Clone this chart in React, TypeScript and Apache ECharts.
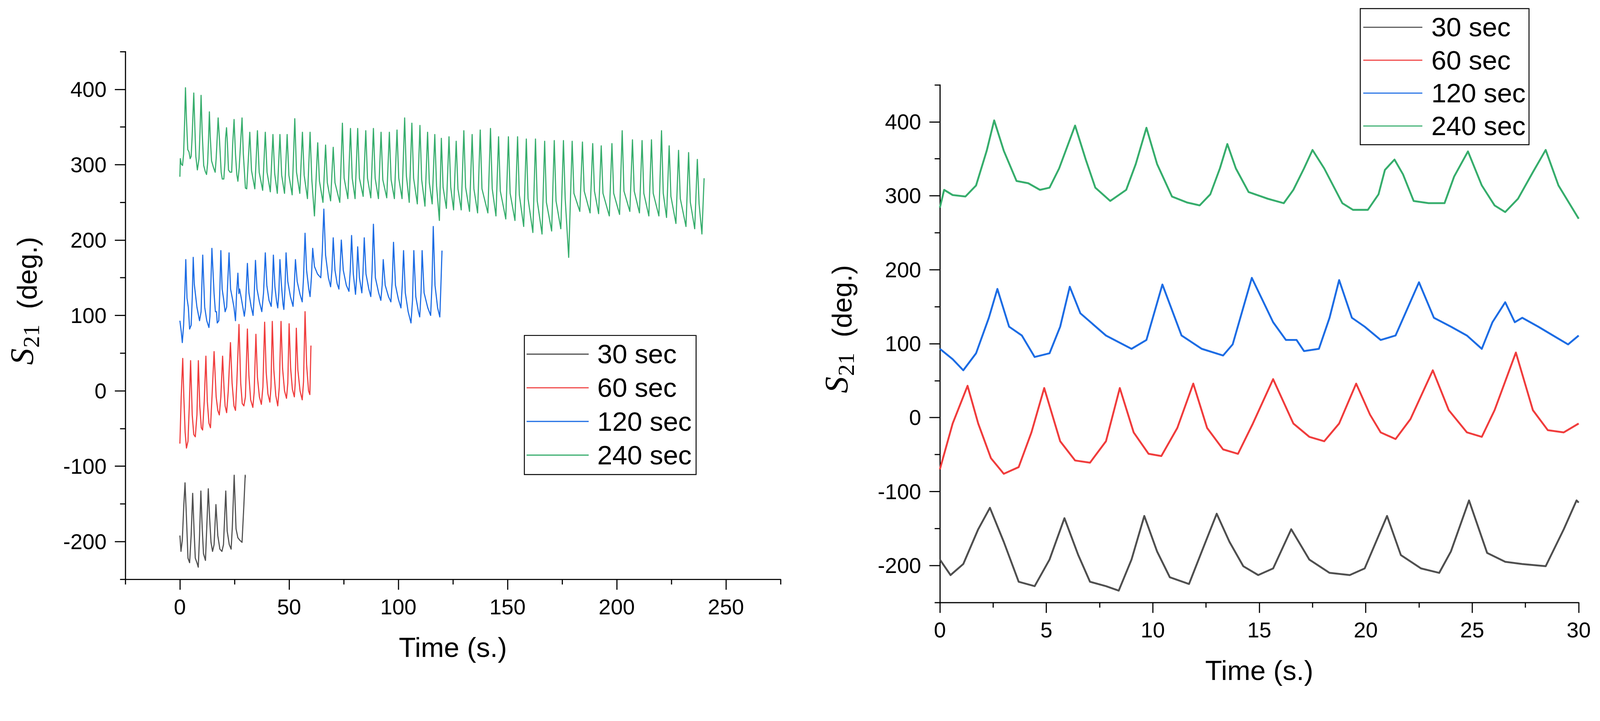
import React, { useEffect, useRef } from "react";
import * as echarts from "echarts";

// ---------- data (time s, S21 deg) ----------
const seriesNames = ["30 sec", "60 sec", "120 sec", "240 sec"];
const seriesColors = ["#4f4f4f", "#f03c3c", "#1c6ce4", "#36ad6c"];

const s30: number[][] = [
  [0, -192], [0.5, -213], [1.1, -198], [1.8, -151], [2.35, -122], [3.0, -168], [3.7, -222], [4.45, -228],
  [5.15, -192], [5.85, -136], [6.5, -186], [7.05, -222], [7.8, -228], [8.4, -234], [9.0, -192], [9.6, -133],
  [10.2, -181], [10.8, -216], [11.7, -225], [12.3, -181], [13.0, -130], [13.6, -168], [14.25, -201], [14.95, -213],
  [15.65, -204], [16.5, -151], [17.35, -192], [18.3, -210], [19.25, -213], [19.95, -204], [21.0, -133], [21.65, -186],
  [22.6, -204], [23.45, -210], [24.0, -181], [24.85, -112], [25.7, -183], [26.55, -195], [27.35, -198], [28.45, -201],
  [29.3, -151], [29.9, -112], [30, -115],
];

const s60: number[][] = [
  [0, -70], [0.6, -8], [1.3, 43], [1.8, -8], [2.4, -55], [3.0, -76], [3.7, -67], [4.3, -20], [4.9, 40],
  [5.65, -32], [6.35, -58], [7.05, -61], [7.8, -32], [8.45, 40], [9.1, -20], [9.8, -49], [10.4, -52], [11.15, -14],
  [11.9, 46], [12.55, -14], [13.3, -43], [14.0, -49], [14.7, -8], [15.65, 52], [16.6, -8], [17.35, -26], [18.05, -32],
  [18.75, -8], [19.55, 46], [20.2, 4], [20.7, -20], [21.4, -29], [22.1, -2], [23.15, 64], [23.9, 10], [24.75, -20],
  [25.45, -26], [26.05, 10], [27.05, 88], [27.85, 10], [28.55, -17], [29.3, -20], [30, -8],
  [30.9, 82], [31.6, 20], [32.4, -12], [33.4, -22], [34.0, -2], [34.8, 75], [35.5, 18], [36.4, -8], [37.3, -18],
  [38.0, 5], [38.8, 91], [39.5, 25], [40.3, -4], [41.2, -15], [41.7, 5], [42.3, 92], [43.0, 28], [43.9, -6],
  [44.8, -20], [45.5, 5], [46.3, 92], [47.0, 30], [47.9, 0], [48.8, -10], [49.4, 10], [50.0, 89], [50.7, 30],
  [51.5, 2], [52.4, -8], [52.8, 10], [53.3, 83], [54.0, 28], [55.0, 0], [56.0, -12], [56.6, 12], [57.3, 105],
  [58.0, 35], [58.9, 0], [59.5, -5], [60, 60],
];

const s120: number[][] = [
  [0, 93], [0.6, 79], [1.1, 64], [1.7, 87], [2.3, 135], [2.7, 174], [3.25, 123], [3.85, 111], [4.45, 82],
  [5.15, 87], [5.65, 123], [6.1, 177], [6.6, 141], [7.8, 111], [9.0, 93], [9.7, 105], [10.45, 180], [11.35, 111],
  [12.3, 93], [13.3, 84], [13.75, 99], [14.65, 189], [15.65, 129], [16.25, 105], [16.75, 105], [17.1, 90],
  [17.8, 93], [18.3, 135], [18.75, 186], [19.35, 135], [19.95, 123], [20.7, 105], [21.4, 111], [22.5, 183],
  [23.2, 135], [24.0, 123], [24.75, 111], [25.45, 93], [25.95, 129], [26.55, 156], [27.0, 129], [27.35, 135],
  [28.1, 123], [28.8, 111], [29.5, 99], [30, 111],
  [30.9, 169], [31.6, 130], [32.6, 112], [33.5, 100], [34.0, 125], [34.6, 173], [35.3, 135], [36.4, 118],
  [37.5, 105], [38.3, 130], [39.1, 183], [39.8, 140], [40.8, 120], [41.8, 112], [42.3, 135], [42.8, 180],
  [43.5, 138], [44.3, 118], [44.8, 110], [45.3, 130], [45.8, 174], [46.5, 140], [47.2, 115], [47.6, 108],
  [48.1, 135], [48.6, 183], [49.4, 145], [50.6, 125], [51.8, 112], [52.3, 135], [52.9, 174], [53.7, 145],
  [55.0, 128], [56.0, 118], [56.6, 150], [57.3, 209], [58.0, 160], [59.0, 135], [59.6, 125], [60.2, 150],
  [60.8, 189], [61.6, 165], [63.0, 155], [64.5, 150], [65.2, 185], [65.9, 241], [66.7, 180], [68.0, 150],
  [69.0, 138], [69.6, 160], [70.2, 203], [71.0, 160], [72.0, 142], [72.8, 135], [73.3, 160], [73.9, 200],
  [74.8, 160], [76.2, 140], [77.4, 132], [78.0, 160], [78.6, 206], [79.4, 155], [80.4, 128], [80.9, 150],
  [81.4, 191], [82.2, 150], [83.3, 130], [83.8, 155], [84.4, 203], [85.2, 155], [86.5, 135], [87.4, 125],
  [88.0, 160], [88.6, 221], [89.5, 150], [91.0, 130], [92.0, 120], [92.6, 140], [93.1, 174], [94.0, 140],
  [95.5, 125], [96.6, 118], [97.2, 145], [97.8, 197], [98.7, 140], [100.0, 122], [101.2, 110], [101.8, 140],
  [102.4, 186], [103.2, 130], [104.5, 105], [105.8, 90], [106.5, 120], [107.1, 186], [108.0, 125], [109.2, 105],
  [109.8, 98], [110.4, 130], [110.9, 186], [111.8, 130], [113.5, 110], [114.8, 100], [115.4, 140], [116.0, 218],
  [116.8, 140], [118.0, 110], [119.0, 98], [119.5, 140], [120, 186],
];

const s240: number[][] = [
  [0, 284], [0.2, 308], [0.6, 301], [1.2, 299], [1.7, 314], [2.2, 361], [2.55, 402], [3.0, 361], [3.6, 320],
  [4.15, 317], [4.7, 308], [5.15, 311], [5.6, 337], [6.35, 395], [6.85, 349], [7.3, 311], [8.0, 293], [8.75, 308],
  [9.2, 343], [9.7, 392], [10.2, 343], [10.9, 299], [11.6, 291], [12.2, 287], [12.7, 302], [13.15, 337], [13.5, 370],
  [13.9, 337], [14.5, 305], [15.4, 296], [16.15, 290], [16.6, 308], [17.1, 337], [17.5, 362], [18.05, 337],
  [18.9, 290], [19.4, 281], [20.1, 281], [20.6, 302], [20.9, 335], [21.35, 349], [21.75, 329], [22.25, 293],
  [22.95, 290], [23.7, 290], [24.15, 326], [24.8, 360], [25.45, 314], [26.05, 287], [26.55, 278], [27.15, 296],
  [27.85, 332], [28.45, 362], [29.05, 314], [30, 269],
  [30.6, 268], [32.0, 343], [32.8, 292], [34.3, 268], [35.5, 345], [36.3, 290], [37.9, 266], [39.1, 343], [39.9, 290],
  [41.4, 264], [42.6, 340], [43.4, 288], [44.6, 262], [45.8, 340], [46.6, 286], [47.9, 262], [49.1, 340], [49.9, 286],
  [51.4, 260], [52.6, 361], [53.4, 290], [54.9, 262], [56.1, 343], [56.9, 286], [58.4, 255], [59.6, 343], [60.4, 280],
  [61.6, 232], [63.1, 329], [63.9, 278], [65.5, 250], [66.7, 326], [67.5, 276], [69.0, 252], [70.2, 323], [71.0, 276],
  [73.2, 250], [74.4, 355], [75.2, 282], [76.9, 255], [78.1, 348], [78.9, 282], [80.2, 255], [81.4, 348], [82.2, 282],
  [83.9, 258], [85.1, 345], [85.9, 282], [87.4, 256], [88.6, 348], [89.4, 282], [90.9, 255], [92.1, 343], [92.9, 280],
  [94.7, 256], [95.9, 343], [96.7, 280], [98.2, 255], [99.4, 346], [100.2, 282], [101.7, 255], [102.9, 362], [103.7, 285],
  [105.0, 250], [106.2, 355], [107.0, 282], [108.7, 248], [109.9, 352], [110.7, 280], [112.2, 245], [113.4, 343],
  [114.2, 276], [115.5, 248], [116.7, 340], [117.5, 272], [118.8, 226], [119.7, 335], [120.5, 270], [122.0, 242],
  [123.2, 337], [124.0, 270], [125.3, 240], [126.5, 331], [127.3, 268], [128.8, 240], [130.0, 345], [130.8, 270],
  [132.6, 238], [133.8, 340], [134.6, 268], [136.3, 236], [137.5, 346], [138.3, 268], [141.0, 236], [142.2, 348],
  [143.0, 268], [144.7, 232], [145.9, 337], [146.7, 265], [149.2, 228], [150.4, 337], [151.2, 262], [153.4, 226],
  [154.6, 337], [155.4, 260], [157.4, 218], [158.6, 334], [159.4, 255], [161.6, 210], [162.8, 334], [163.6, 252],
  [165.8, 208], [167.0, 331], [167.8, 250], [170.2, 212], [171.4, 332], [172.2, 252], [174.4, 215], [175.6, 332],
  [176.4, 255], [178.0, 177], [179.6, 331], [180.4, 262], [183.1, 238], [184.3, 330], [185.1, 265], [187.8, 236],
  [189.0, 328], [189.8, 265], [191.7, 235], [192.9, 325], [193.7, 262], [196.6, 232], [197.8, 328], [198.6, 262],
  [201.3, 234], [202.5, 345], [203.3, 265], [206.0, 238], [207.2, 333], [208.0, 265], [210.4, 236], [211.6, 332],
  [212.4, 262], [214.7, 232], [215.9, 333], [216.7, 262], [219.3, 232], [220.5, 345], [221.3, 262], [222.8, 230],
  [224.0, 325], [224.8, 258], [227.1, 222], [228.3, 319], [229.1, 255], [231.7, 218], [232.9, 316], [233.7, 250],
  [235.7, 215], [236.9, 307], [237.7, 248], [239.0, 208], [240, 282],
];

const allSeries = [s30, s60, s120, s240];

// tick values
const leftXMajor = [0, 50, 100, 150, 200, 250];
const leftXMinor = [-25, 25, 75, 125, 175, 225, 275];
const rightXMajor = [0, 5, 10, 15, 20, 25, 30];
const rightXMinor = [2.5, 7.5, 12.5, 17.5, 22.5, 27.5];
const yMajor = [-200, -100, 0, 100, 200, 300, 400];
const yMinor = [-250, -150, -50, 50, 150, 250, 350, 450];

const W = 4278;
const H = 1846;
const FONT = "'Liberation Sans', Arial, sans-serif";
const SERIF = "'Liberation Serif', 'Times New Roman', serif";

function mainX(grid: number, min: number, max: number, major: number[], nameGap: number) {
  return {
    type: "value", gridIndex: grid, min, max, position: "bottom",
    axisLine: { show: true, onZero: false, lineStyle: { color: "#000", width: 3 } },
    axisTick: { show: true, customValues: major, length: 28, lineStyle: { color: "#000", width: 3 } },
    axisLabel: { show: true, customValues: major, fontSize: 58, margin: 45, color: "#000", fontFamily: FONT },
    splitLine: { show: false },
    name: "Time (s.)", nameLocation: "middle", nameGap,
    nameTextStyle: { fontSize: 74, color: "#000", fontFamily: FONT },
  };
}
function minorX(grid: number, min: number, max: number, minor: number[]) {
  return {
    type: "value", gridIndex: grid, min, max, position: "bottom",
    axisLine: { show: false, onZero: false },
    axisTick: { show: true, customValues: minor, length: 14, lineStyle: { color: "#000", width: 3 } },
    axisLabel: { show: false },
    splitLine: { show: false },
  };
}
function mainY(grid: number) {
  return {
    type: "value", gridIndex: grid, min: -250, max: 450, position: "left",
    axisLine: { show: true, onZero: false, lineStyle: { color: "#000", width: 3 } },
    axisTick: { show: true, customValues: yMajor, length: 28, lineStyle: { color: "#000", width: 3 } },
    axisLabel: { show: true, customValues: yMajor, fontSize: 58, margin: 50, color: "#000", fontFamily: FONT },
    splitLine: { show: false },
    name: "{s|S}{sub|21}{d|  (deg.)}",
    nameLocation: "middle", nameGap: 232, nameRotate: 90,
    nameTextStyle: {
      color: "#000",
      padding: [0, 0, 0, 78],
      rich: {
        s: { fontFamily: SERIF, fontStyle: "italic", fontSize: 88, lineHeight: 88, verticalAlign: "top", color: "#000" },
        sub: { fontFamily: SERIF, fontSize: 62, lineHeight: 62, padding: [38, 0, 0, 2], verticalAlign: "top", color: "#000" },
        d: { fontFamily: FONT, fontSize: 74, lineHeight: 74, padding: [21, 0, 0, 0], verticalAlign: "top", color: "#000" },
      },
    },
  };
}
function minorY(grid: number) {
  return {
    type: "value", gridIndex: grid, min: -250, max: 450, position: "left",
    axisLine: { show: false, onZero: false },
    axisTick: { show: true, customValues: yMinor, length: 14, lineStyle: { color: "#000", width: 3 } },
    axisLabel: { show: false },
    splitLine: { show: false },
  };
}

function legendAt(left: number, top: number, iconW: number, gap: number, pad: number[], textPad: number) {
  return {
    orient: "vertical", left, top, data: seriesNames,
    icon: "rect", itemWidth: iconW, itemHeight: 3, itemGap: gap,
    padding: pad, borderColor: "#000", borderWidth: 2.5, backgroundColor: "#fff",
    textStyle: { fontSize: 72, lineHeight: 80, color: "#000", fontFamily: FONT, padding: [0, 0, 0, textPad] },
    selectedMode: false,
  };
}

export default function App() {
  const ref = useRef<HTMLDivElement>(null);
  useEffect(() => {
    const el = ref.current;
    if (!el) return;
    const vw = window.innerWidth || W;
    const vh = window.innerHeight || H;
    const s = Math.min(vw / W, vh / H);
    el.style.transform = `scale(${s})`;
    const chart = echarts.init(el, null, { renderer: "svg" });
    const series: any[] = [];
    allSeries.forEach((d, i) => {
      series.push({
        name: seriesNames[i], type: "line", xAxisIndex: 0, yAxisIndex: 0, data: d,
        showSymbol: false, symbol: "none", lineStyle: { color: seriesColors[i], width: 3, join: "round" },
        itemStyle: { color: seriesColors[i] }, z: 2 + i,
      });
    });
    allSeries.forEach((d, i) => {
      series.push({
        name: seriesNames[i], type: "line", xAxisIndex: 2, yAxisIndex: 2,
        data: d.filter((p) => p[0] <= 30),
        showSymbol: false, symbol: "none", lineStyle: { color: seriesColors[i], width: 5, join: "round" },
        itemStyle: { color: seriesColors[i] }, z: 2 + i,
      });
    });
    const option: any = {
      animation: false,
      backgroundColor: "#fff",
      grid: [
        { left: 335, top: 138, width: 1752, height: 1411, containLabel: false, outerBoundsMode: "none" },
        { left: 2513, top: 227, width: 1708, height: 1384, containLabel: false, outerBoundsMode: "none" },
      ],
      xAxis: [
        mainX(0, -25, 275, leftXMajor, 145),
        minorX(0, -25, 275, leftXMinor),
        mainX(1, 0, 30, rightXMajor, 145),
        minorX(1, 0, 30, rightXMinor),
      ],
      yAxis: [mainY(0), minorY(0), mainY(1), minorY(1)],
      legend: [
        legendAt(1402, 897, 166, 10, [10, 12, 12, 6], 18),
        legendAt(3637, 23, 158, 8, [10, 9, 10, 8], 19),
      ],
      series,
    };
    chart.setOption(option);
    return () => chart.dispose();
  }, []);
  return (
    <div
      ref={ref}
      style={{
        position: "fixed", left: 0, top: 0, width: W, height: H,
        background: "#fff", transformOrigin: "0 0",
      }}
    />
  );
}
